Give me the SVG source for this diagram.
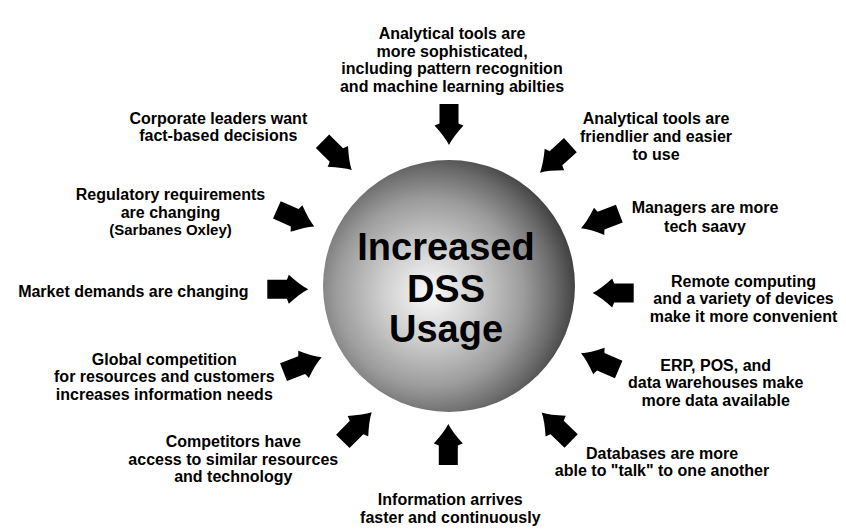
<svg xmlns="http://www.w3.org/2000/svg" xmlns:xlink="http://www.w3.org/1999/xlink" width="846" height="530" viewBox="0 0 846 530">
  <style>
    .lbl { font-family: "Liberation Sans", Arial, Helvetica, sans-serif; font-weight: bold; font-size: 16px; fill: #000; text-anchor: middle; }
    .small { font-size: 15px; }
    .hub { font-family: "Liberation Sans", Arial, Helvetica, sans-serif; font-weight: bold; font-size: 38px; fill: #000; text-anchor: middle; }
    .arrow { fill: #000; }
  </style>
  <defs>
    <radialGradient id="sphereShade" gradientUnits="userSpaceOnUse" cx="430" cy="293" r="156" fx="430" fy="293">
      <stop offset="0" stop-color="#fafafa"/>
      <stop offset="0.3" stop-color="#cfcfcf"/>
      <stop offset="0.6" stop-color="#9c9c9c"/>
      <stop offset="0.8" stop-color="#6a6a6a"/>
      <stop offset="1" stop-color="#2e2e2e"/>
    </radialGradient>
    <!-- block arrow with flared, concave head; tip at the origin, pointing +x -->
    <path id="blockArrow" d="M -41,-9.5 L -21.5,-9.5 Q -20.5,-11.5 -19.5,-14.5 Q -8,-4 0,0 Q -8,4 -19.5,14.5 Q -20.5,11.5 -21.5,9.5 L -41,9.5 Z"/>
  </defs>

  <rect width="846" height="530" fill="#fff"/>

  <!-- central hub -->
  <g id="hub">
    <circle cx="449" cy="286" r="126" fill="url(#sphereShade)"/>
    <text class="hub" x="446" y="260">Increased</text>
    <text class="hub" x="446" y="302">DSS</text>
    <text class="hub" x="446" y="342">Usage</text>
  </g>

  <!-- arrows pointing into the hub -->
  <g id="connectors" class="arrow">
    <use xlink:href="#blockArrow" transform="translate(449,145) rotate(90)"/>
    <use xlink:href="#blockArrow" transform="translate(540,172.7) rotate(137.8)"/>
    <use xlink:href="#blockArrow" transform="translate(351.7,170) rotate(44.6)"/>
    <use xlink:href="#blockArrow" transform="translate(314.3,226.5) rotate(24)"/>
    <use xlink:href="#blockArrow" transform="translate(308.3,289.3) rotate(0)"/>
    <use xlink:href="#blockArrow" transform="translate(321.7,357.3) rotate(-21.3)"/>
    <use xlink:href="#blockArrow" transform="translate(371.7,412.3) rotate(-45.2)"/>
    <use xlink:href="#blockArrow" transform="translate(448.3,424) rotate(-90)"/>
    <use xlink:href="#blockArrow" transform="translate(541.7,412.5) rotate(-135.9)"/>
    <use xlink:href="#blockArrow" transform="translate(581,353.3) rotate(-156.8)"/>
    <use xlink:href="#blockArrow" transform="translate(592.7,293) rotate(180)"/>
    <use xlink:href="#blockArrow" transform="translate(581,228.3) rotate(159.1)"/>
  </g>

  <g id="sophisticated-tools">
    <text class="lbl" x="452" y="39">Analytical tools are</text>
    <text class="lbl" x="452" y="56.7">more sophisticated,</text>
    <text class="lbl" x="452" y="74.3">including pattern recognition</text>
    <text class="lbl" x="452" y="92">and machine learning abilties</text>
  </g>

  <g id="friendlier-tools">
    <text class="lbl" x="656" y="124.3">Analytical tools are</text>
    <text class="lbl" x="656" y="142.3">friendlier and easier</text>
    <text class="lbl" x="656" y="160.3">to use</text>
  </g>

  <g id="managers">
    <text class="lbl" x="705" y="212.7">Managers are more</text>
    <text class="lbl" x="705" y="231.7">tech saavy</text>
  </g>

  <g id="remote-computing">
    <text class="lbl" x="743.5" y="286.7">Remote computing</text>
    <text class="lbl" x="743.5" y="304.3">and a variety of devices</text>
    <text class="lbl" x="743.5" y="321.7">make it more convenient</text>
  </g>

  <g id="erp-pos">
    <text class="lbl" x="715.7" y="370.7">ERP, POS, and</text>
    <text class="lbl" x="715.7" y="388.3">data warehouses make</text>
    <text class="lbl" x="715.7" y="406">more data available</text>
  </g>

  <g id="databases">
    <text class="lbl" x="662" y="459">Databases are more</text>
    <text class="lbl" x="662" y="475.5">able to "talk" to one another</text>
  </g>

  <g id="information">
    <text class="lbl" x="450.3" y="505.3">Information arrives</text>
    <text class="lbl" x="450.3" y="522.7">faster and continuously</text>
  </g>

  <g id="competitors">
    <text class="lbl" x="233.3" y="447.3">Competitors have</text>
    <text class="lbl" x="233.3" y="465">access to similar resources</text>
    <text class="lbl" x="233.3" y="482.3">and technology</text>
  </g>

  <g id="global-competition">
    <text class="lbl" x="164.3" y="365">Global competition</text>
    <text class="lbl" x="164.3" y="382.3">for resources and customers</text>
    <text class="lbl" x="164.3" y="400.3">increases information needs</text>
  </g>

  <g id="market-demands">
    <text class="lbl" x="133.3" y="296.7">Market demands are changing</text>
  </g>

  <g id="regulatory">
    <text class="lbl" x="170.5" y="200">Regulatory requirements</text>
    <text class="lbl" x="170.5" y="218">are changing</text>
    <text class="lbl small" x="170.5" y="235">(Sarbanes Oxley)</text>
  </g>

  <g id="corporate-leaders">
    <text class="lbl" x="218.3" y="124">Corporate leaders want</text>
    <text class="lbl" x="218.3" y="141">fact-based decisions</text>
  </g>
</svg>
